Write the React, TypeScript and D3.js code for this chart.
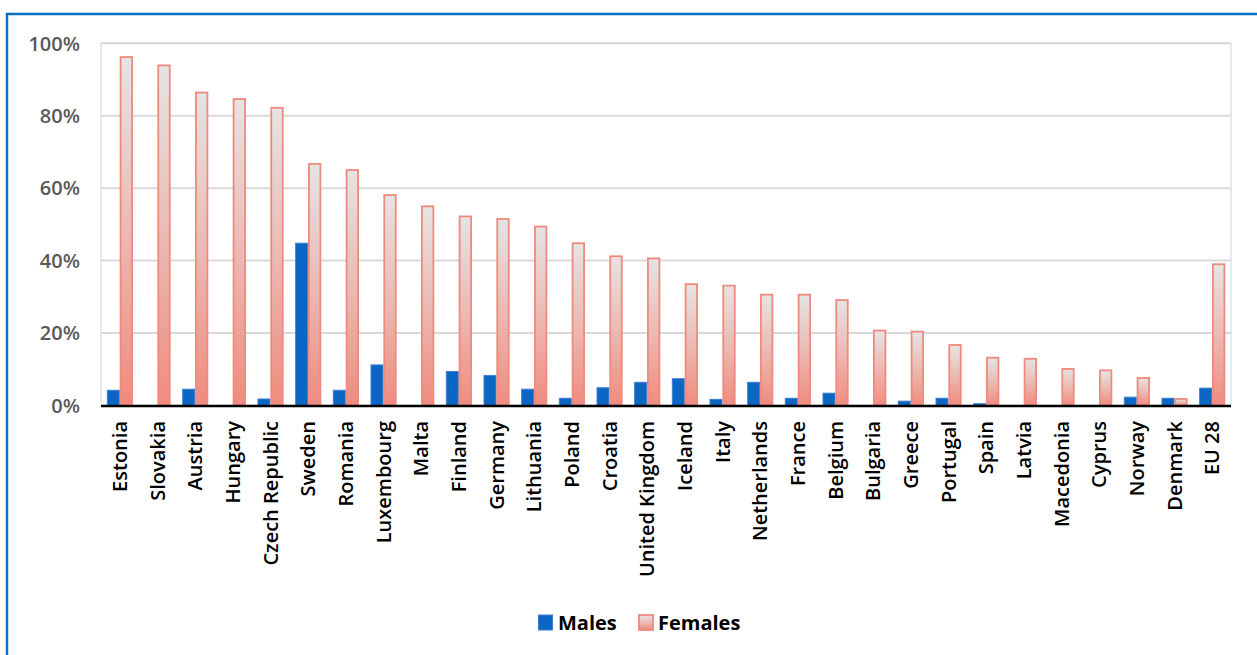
import React from "react";
import * as d3 from "d3";

// Share of employed (%) by country, males vs females
const countries: string[] = [
  "Estonia", "Slovakia", "Austria", "Hungary", "Czech Republic", "Sweden",
  "Romania", "Luxembourg", "Malta", "Finland", "Germany", "Lithuania",
  "Poland", "Croatia", "United Kingdom", "Iceland", "Italy", "Netherlands",
  "France", "Belgium", "Bulgaria", "Greece", "Portugal", "Spain", "Latvia",
  "Macedonia", "Cyprus", "Norway", "Denmark", "EU 28",
];

const males: number[] = [
  4.2, 0, 4.5, 0, 1.8, 44.8, 4.2, 11.2, 0, 9.4, 8.3, 4.5, 2.0, 4.9, 6.4,
  7.4, 1.7, 6.4, 2.0, 3.4, 0, 1.2, 2.0, 0.5, 0, 0, 0, 2.3, 2.0, 4.8,
];

const females: number[] = [
  96.2, 93.9, 86.4, 84.6, 82.2, 66.7, 65.0, 58.1, 55.0, 52.2, 51.5, 49.4,
  44.8, 41.2, 40.6, 33.5, 33.1, 30.6, 30.6, 29.1, 20.7, 20.4, 16.7, 13.2,
  12.9, 10.1, 9.7, 7.6, 1.8, 39.0,
];

const yTicks: number[] = [0, 20, 40, 60, 80, 100];

const seriesKeys = ["Males", "Females"];

const W = 1257;
const H = 655;
const plot = { left: 101, right: 1231, top: 43.3, bottom: 405.5 };

const BLUE = "#0a66c2";
const BLUE_EDGE = "#3d7fd3";
const SALMON = "#f08a7d";
const FONT = "'Open Sans', 'Liberation Sans', sans-serif";

export default function App() {
  const x0 = d3
    .scaleBand<string>()
    .domain(countries)
    .range([plot.left, plot.right])
    .paddingInner(0.31)
    .paddingOuter(0.155);

  const x1 = d3
    .scaleBand<string>()
    .domain(seriesKeys)
    .range([0, x0.bandwidth()]);

  const y = d3.scaleLinear().domain([0, 100]).range([plot.bottom, plot.top]);

  const rows = countries.map((c, i) => ({ c, m: males[i], f: females[i] }));

  return (
    <svg
      width={W}
      height={H}
      style={{ position: "fixed", left: 0, top: 0, background: "#fff" }}
    >
      <defs>
        <linearGradient id="femGrad" x1="0" y1="0" x2="0" y2="1">
          <stop offset="0%" stopColor="#e5e4e4" />
          <stop offset="50%" stopColor="#ebbab4" />
          <stop offset="100%" stopColor="#f08b7e" />
        </linearGradient>
      </defs>

      {/* outer frame */}
      <rect x={7} y={14} width={1400} height={800} fill="none" stroke="#0a70c4" strokeWidth={2.5} />

      {/* plot area border */}
      <rect
        x={plot.left}
        y={plot.top}
        width={plot.right - plot.left}
        height={plot.bottom - plot.top}
        fill="none"
        stroke="#dbe4f4"
        strokeWidth={1.5}
      />

      {/* gridlines and y labels */}
      {yTicks.map((t) => (
        <g key={t}>
          {t > 0 && (
            <line
              x1={plot.left}
              x2={plot.right}
              y1={y(t)}
              y2={y(t)}
              stroke="#d9d9d9"
              strokeWidth={2}
            />
          )}
          <text
            x={80}
            y={y(t)}
            dy="0.36em"
            textAnchor="end"
            fontFamily={FONT}
            fontWeight={600}
            fontSize={20}
            fill="#595959"
          >
            {`${t}%`}
          </text>
        </g>
      ))}

      {/* bars */}
      {rows.map((r) => {
        const gx = x0(r.c)!;
        return (
          <g key={r.c} transform={`translate(${gx},0)`}>
            {r.m > 0 && (
              <rect
                x={x1("Males")! + 0.5}
                y={y(r.m)}
                width={x1.bandwidth() - 1}
                height={y(0) - y(r.m)}
                fill={BLUE}
                stroke={BLUE_EDGE}
                strokeWidth={1}
              />
            )}
            {r.f > 0 && (
              <rect
                x={x1("Females")! + 0.75}
                y={y(r.f)}
                width={x1.bandwidth() - 1.5}
                height={y(0) - y(r.f)}
                fill="url(#femGrad)"
                stroke={SALMON}
                strokeWidth={1.8}
              />
            )}
          </g>
        );
      })}

      {/* x axis line */}
      <line
        x1={plot.left}
        x2={plot.right}
        y1={406}
        y2={406}
        stroke="#000"
        strokeWidth={2.5}
      />

      {/* category labels */}
      {countries.map((c) => {
        const cx = x0(c)! + x0.bandwidth() / 2;
        return (
          <text
            key={c}
            transform={`translate(${cx},421) rotate(-90)`}
            dy="0.36em"
            textAnchor="end"
            fontFamily={FONT}
            fontWeight={600}
            fontSize={20}
            fill="#000"
          >
            {c}
          </text>
        );
      })}

      {/* legend */}
      <g>
        <rect x={538.5} y={615} width={14} height={15} fill={BLUE} stroke={BLUE_EDGE} strokeWidth={1} />
        <text x={558} y={622.5} dy="0.36em" fontFamily={FONT} fontWeight={700} fontSize={20} fill="#000">
          Males
        </text>
        <rect x={639} y={615} width={14} height={15} fill="url(#femGrad)" stroke={SALMON} strokeWidth={1.8} />
        <text x={658} y={622.5} dy="0.36em" fontFamily={FONT} fontWeight={700} fontSize={20} fill="#000">
          Females
        </text>
      </g>
    </svg>
  );
}
